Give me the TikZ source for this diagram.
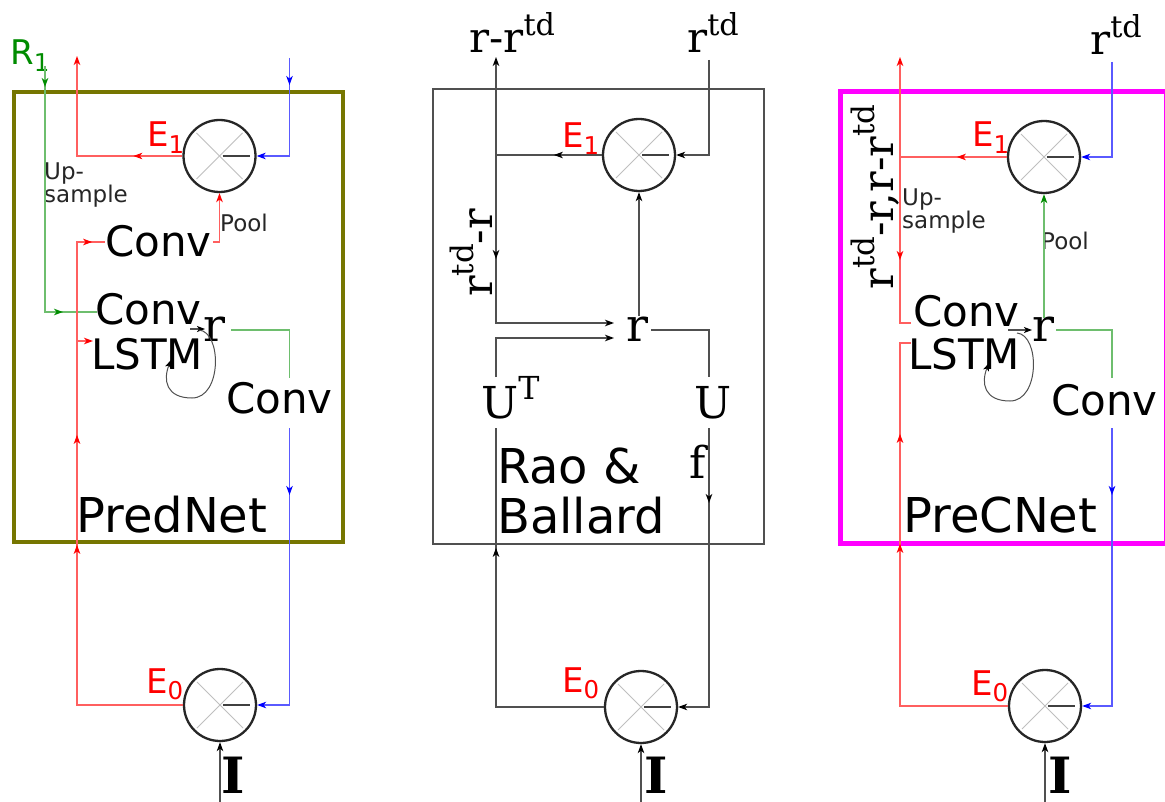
\documentclass[tikz,border=0pt]{standalone}
\usepackage{fontspec}
\setmainfont{DejaVu Serif}
\newfontfamily\sansf{DejaVu Sans}
\usetikzlibrary{arrows.meta,decorations.markings}
\definecolor{redl}{RGB}{255,95,95}
\definecolor{grnl}{RGB}{110,190,110}
\definecolor{grnd}{RGB}{0,140,0}
\definecolor{bluel}{RGB}{90,90,255}
\definecolor{grayl}{RGB}{80,80,80}
\definecolor{olv}{RGB}{118,118,0}
\definecolor{mag}{RGB}{255,0,255}
\newcommand\hsup[1]{\raisebox{0.42em}{\scalebox{0.72}{#1}}}
\newcommand\lsub[1]{\raisebox{-0.2em}{\scalebox{0.72}{#1}}}
\tikzset{
  AR/.tip={Stealth[length=9pt,width=6.5pt,inset=2.5pt,color=red]},
  AG/.tip={Stealth[length=9pt,width=6.5pt,inset=2.5pt,color=grnd]},
  AB/.tip={Stealth[length=9pt,width=6.5pt,inset=2.5pt,color=blue]},
  AK/.tip={Stealth[length=9pt,width=6.5pt,inset=2.5pt,color=black]},
  Rl/.style={draw=redl, line width=1.3pt},
  Gl/.style={draw=grnl, line width=1.3pt},
  Bl/.style={draw=bluel, line width=1.3pt},
  Kl/.style={draw=grayl, line width=1.2pt},
  mR/.style={postaction={decorate,decoration={markings,mark=at position #1 with {\arrow{AR}}}}},
  mG/.style={postaction={decorate,decoration={markings,mark=at position #1 with {\arrow{AG}}}}},
  mB/.style={postaction={decorate,decoration={markings,mark=at position #1 with {\arrow{AB}}}}},
  mK/.style={postaction={decorate,decoration={markings,mark=at position #1 with {\arrow{AK}}}}},
  errc/.style={circle, draw=black!85, line width=2.3pt, minimum size=72pt, inner sep=0pt, fill=white},
  xl/.style={draw=gray!50, line width=1pt},
  minus/.style={draw=black!75, line width=2.5pt},
  sbig/.style={font=\sansf\fontsize{42}{42}\selectfont, inner sep=0pt},
  ttl/.style={font=\sansf\fontsize{48}{48}\selectfont, inner sep=0pt},
  ssmall/.style={font=\sansf\fontsize{23}{23}\selectfont, inner sep=0pt, text=black!85},
  elab/.style={font=\sansf\fontsize{34}{34}\selectfont, inner sep=0pt, text=red},
  glab/.style={elab, text=grnd},
  ser/.style={font=\fontsize{42}{42}\selectfont, inner sep=0pt},
  serr/.style={font=\fontsize{46}{46}\selectfont, inner sep=0pt},
  seru/.style={font=\fontsize{44}{44}\selectfont, inner sep=0pt},
  serI/.style={font=\bfseries\fontsize{50}{50}\selectfont, inner sep=0pt},
  rot/.style={font=\fontsize{43}{43}\selectfont, inner sep=0pt, rotate=90, anchor=base},
}
\newcommand\errnode[3]{%
  \node[errc] (#1) at (#2,#3) {};
  \draw[xl] (#1.center) ++(-23,-23) -- ++(46,46);
  \draw[xl] (#1.center) ++(-23,23) -- ++(46,-46);
  \draw[minus] (#1.center) ++(3,0) -- ++(27,0);
}
\begin{document}
\begin{tikzpicture}[x=1pt,y=-1pt]
\fill[white] (0,0) rectangle (1165,802);
\useasboundingbox (0,0) rectangle (1165,802);

% ================= PredNet (left) =================
\draw[draw=olv, line width=4.5pt] (14,92) rectangle (343,542);
\errnode{aE1}{219.5}{156}
\errnode{aE0}{220}{705}
\node[glab, anchor=base west] (aR1) at (10,65) {R\lsub{1}};
\node[elab, anchor=base west] (aE1l) at (147,147) {E\lsub{1}};
\node[elab, anchor=base west] (aE0l) at (146,693) {E\lsub{0}};
\node[ssmall, anchor=base west] (aUp1) at (44,180) {Up-};
\node[ssmall, anchor=base west] (aUp2) at (44,203) {sample};
\node[ssmall, anchor=base west] (aPool) at (220,232) {Pool};
\node[sbig, anchor=base west] (aConv1) at (105,257) {Conv};
\node[sbig, anchor=base west] (aConvL) at (95,325) {Conv};
\node[sbig, anchor=base west] (aLSTM) at (91,370) {LSTM};
\node[serr, anchor=base west] (aR) at (203,342) {r};
\node[sbig, anchor=base west] (aConv2) at (226,413) {Conv};
\node[ttl, anchor=base west] (aTitle) at (76,532) {PredNet};
\node[serI, anchor=base west] (aI) at (221,793) {I};

\coordinate (aBtop) at (289.5,58);
\coordinate (aRtop) at (77,56);
\coordinate (aGtop) at (45,66);
\coordinate (aGin) at (97,312);
\coordinate (aRv) at (77,242);
\coordinate (aRin1) at (105,242);
\coordinate (aRl) at (77,341);
\coordinate (aLin) at (93,341);
\coordinate (aC1out) at (213,242);
\coordinate (aArr1) at (190,329);
\coordinate (aArr2) at (205,329);
\coordinate (aGr) at (231,330);
\coordinate (aGd) at (289.5,378);
\coordinate (aBd) at (289.5,428);
\coordinate (aIb) at (220,802);

\draw[Bl, mB=27pt, -AB] (aBtop) |- (aE1.east);
\draw[Rl, mR=49pt, -AR] (aE1.west) -| (aRtop);
\draw[Gl, mG=21pt, mG=264pt] (aGtop) |- (aGin);
\draw[Rl, mR=266pt, mR=376pt, mR=584pt] (aE0.west) -| (aRv) -- (aRin1);
\draw[Rl, -AR] (aRl) -- (aLin);
\draw[Rl, -AR] (aC1out) -| (aE1.south);
\draw[Kl, -{Stealth[length=8pt,width=6pt,inset=2pt,color=black]}] (aArr1) -- (aArr2);
\draw[Kl, line width=1pt, -{Stealth[length=8pt,width=6pt,inset=2pt,color=black]}] (199,330) .. controls (222,332) and (222,398) .. (192,398) .. controls (166,398) and (163,380) .. (171,360);
\draw[Gl] (aGr) -| (aGd);
\draw[Bl, mB=67pt, -AB] (aBd) |- (aE0.east);
\draw[Kl, -AK] (aIb) -- (aE0.south);

% ================= Rao & Ballard (middle) =================
\draw[draw=grayl, line width=1.2pt] (433,89) rectangle (764,544);
\errnode{bE1}{639}{155}
\errnode{bE0}{641}{707}
\node[ser, anchor=base west] (bRtdl) at (687,53) {r\hsup{td}};
\node[ser, anchor=base west] (bRRl) at (469,53) {r-r\hsup{td}};
\node[elab, anchor=base west] (bE1l) at (562,148) {E\lsub{1}};
\node[elab, anchor=base west] (bE0l) at (562,692) {E\lsub{0}};
\node[rot] (bRot) at (492,253) {r\hsup{td}-r};
\node[serr, anchor=base west] (bR) at (626,342) {r};
\node[seru, anchor=base west] (bUT) at (481,418) {U\hsup{T}};
\node[seru, anchor=base west] (bU) at (694,418) {U};
\node[seru, anchor=base west] (bF) at (689,478) {f};
\node[ttl, anchor=base west] (bT1) at (497,483) {Rao \&};
\node[ttl, anchor=base west] (bT2) at (497,533) {Ballard};
\node[serI, anchor=base west] (bI) at (644,793) {I};

\coordinate (bTop) at (709,60);
\coordinate (bUp) at (496,57);
\coordinate (bJ) at (496,155);
\coordinate (bRin1) at (614,323);
\coordinate (bRtop) at (639,316);
\coordinate (bUTtop) at (496,377);
\coordinate (bRin2) at (614,338);
\coordinate (bRr) at (651,330);
\coordinate (bUtop) at (709,377);
\coordinate (bUTbot) at (496,428);
\coordinate (bUbot) at (709,428);
\coordinate (bIb) at (641,802);

\draw[Kl, -AK] (bTop) |- (bE1.east);
\draw[Kl, mK=48pt, -AK] (bE1.west) -| (bUp);
\draw[Kl, mK=104pt, -AK] (bJ) |- (bRin1);
\draw[Kl, -AK] (bRtop) -- (bE1.south);
\draw[Kl, -AK] (bUTtop) |- (bRin2);
\draw[Kl] (bRr) -| (bUtop);
\draw[Kl, mK=267pt] (bE0.west) -| (bUTbot);
\draw[Kl, mK=75pt, -AK] (bUbot) |- (bE0.east);
\draw[Kl, -AK] (bIb) -- (bE0.south);

% ================= PreCNet (right) =================
\draw[draw=mag, line width=5pt] (840,92) rectangle (1166,543);
\errnode{cE1}{1044}{157}
\errnode{cE0}{1045}{706}
\node[ser, anchor=base west] (cRtdl) at (1090,55) {r\hsup{td}};
\node[elab, anchor=base west] (cE1l) at (972,147) {E\lsub{1}};
\node[elab, anchor=base west] (cE0l) at (971,695) {E\lsub{0}};
\node[rot] (cRot) at (893,197) {r\hsup{td}-r,r-r\hsup{td}};
\node[ssmall, anchor=base west] (cUp1) at (902,206) {Up-};
\node[ssmall, anchor=base west] (cUp2) at (902,229) {sample};
\node[ssmall, anchor=base west] (cPool) at (1041,250) {Pool};
\node[sbig, anchor=base west] (cConvL) at (913,327) {Conv};
\node[sbig, anchor=base west] (cLSTM) at (908,370) {LSTM};
\node[serr, anchor=base west] (cR) at (1032,342) {r};
\node[sbig, anchor=base west] (cConv2) at (1051,415) {Conv};
\node[ttl, anchor=base west] (cTitle) at (903,532) {PreCNet};
\node[serI, anchor=base west] (cI) at (1048,793) {I};

\coordinate (cTop) at (1112,62);
\coordinate (cUp) at (900,57);
\coordinate (cJ) at (900,157);
\coordinate (cC1) at (911,323);
\coordinate (cGr) at (1044,318);
\coordinate (cArr1) at (1008,330);
\coordinate (cArr2) at (1032,330);
\coordinate (cRr) at (1056,330);
\coordinate (cGd) at (1112,378);
\coordinate (cBd) at (1112,428);
\coordinate (cLs) at (900,343);
\coordinate (cLin) at (911,343);
\coordinate (cIb) at (1045,802);

\draw[Bl, -AB] (cTop) |- (cE1.east);
\draw[Rl, mR=50pt, -AR] (cE1.west) -| (cUp);
\draw[Rl, mR=103pt] (cJ) |- (cC1);
\draw[Gl, -AG] (cGr) -- (cE1.south);
\draw[Kl, -{Stealth[length=8pt,width=6pt,inset=2pt,color=black]}] (cArr1) -- (cArr2);
\draw[Kl, line width=1pt, -{Stealth[length=8pt,width=6pt,inset=2pt,color=black]}] (1017,333) .. controls (1040,335) and (1040,401) .. (1010,401) .. controls (984,401) and (981,383) .. (989,363);
\draw[Gl] (cRr) -| (cGd);
\draw[Bl, mB=67pt, -AB] (cBd) |- (cE0.east);
\draw[Rl, mR=270pt, mR=380pt] (cE0.west) -| (cLs) -- (cLin);
\draw[Kl, -AK] (cIb) -- (cE0.south);
\end{tikzpicture}
\end{document}
